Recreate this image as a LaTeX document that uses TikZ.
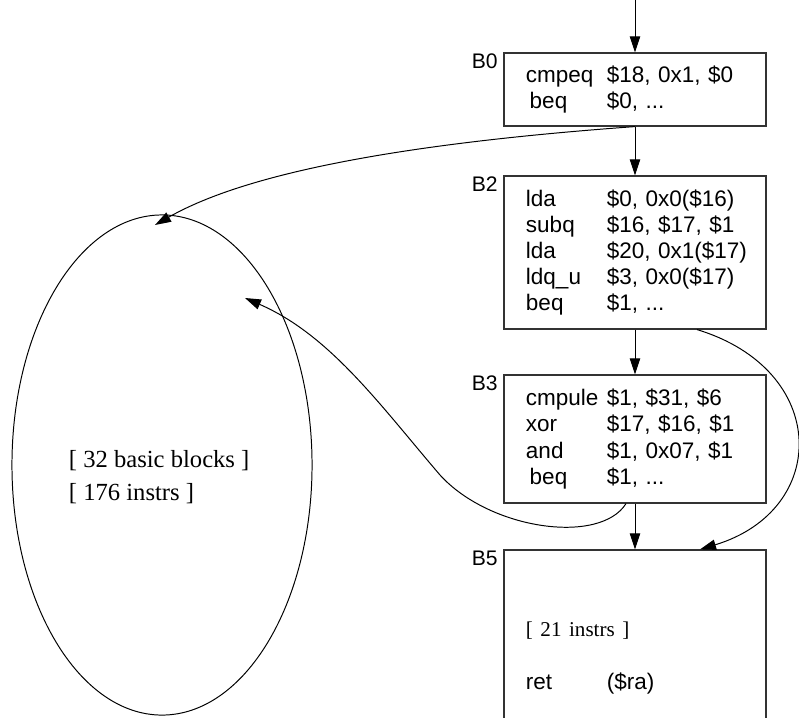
\documentclass[tikz,border=0pt]{standalone}
\usepackage{fontspec}
\setmainfont{Liberation Serif}
\newfontfamily\codefont{Liberation Sans}
\usetikzlibrary{arrows.meta,positioning,calc,shapes.geometric}
\newcommand{\instr}[2]{\makebox[2.02cm][l]{#1}\mbox{#2}}

\begin{document}
\begin{tikzpicture}[
  x=0.025cm, y=-0.025cm,
  block/.style={draw=black!80, line width=0.8pt, text width=5.45cm, inner xsep=0.55cm,
    align=left, font=\codefont\fontsize{16}{18.5}\selectfont},
  blocklabel/.style={anchor=north east, inner sep=1pt, font=\codefont\fontsize{15}{18}\selectfont},
  note/.style={align=left, font=\fontsize{17.5}{23.5}\selectfont},
  arr/.style={-{Triangle[length=4mm, width=2.6mm]}, line width=0.7pt}
]
  \useasboundingbox (0,0) rectangle (799,717);
  \clip (0,0) rectangle (799,717);
  % blocks of the function
  \node[block, minimum height=1.825cm] (b0) at (635,89.5)
    {\instr{cmpeq}{\$18, 0x1, \$0}\\ \instr{\,beq}{\$0, ...}};
  \node[block, minimum height=3.825cm] (b2) at (635,252.5)
    {\instr{lda}{\$0, 0x0(\$16)}\\ \instr{subq}{\$16, \$17, \$1}\\
     \instr{lda}{\$20, 0x1(\$17)}\\ \instr{ldq\_u}{\$3, 0x0(\$17)}\\
     \instr{beq}{\$1, ...}};
  \node[block, minimum height=3.2cm] (b3) at (635,439)
    {\instr{cmpule}{\$1, \$31, \$6}\\ \instr{xor}{\$17, \$16, \$1}\\
     \instr{and}{\$1, 0x07, \$1}\\ \instr{\,beq}{\$1, ...}};
  \node[block, minimum height=5.4cm] (b5) at (635,658)
    {{\rmfamily\fontsize{15}{18.5}\selectfont [ 21 instrs ]}\\[19pt] \instr{ret}{(\$ra)}};
  \node[blocklabel] (l0) at ($(b0.north west)+(-4,0)$) {B0};
  \node[blocklabel] (l2) at ($(b2.north west)+(-4,0)$) {B2};
  \node[blocklabel] (l3) at ($(b3.north west)+(-4,0)$) {B3};
  \node[blocklabel] (l5) at ($(b5.north west)+(-4,0)$) {B5};
  % the rest of the function
  \node[ellipse, draw, line width=0.7pt, minimum width=7.5cm, minimum height=12.5cm] (blob) at (162,465) {};
  \node[note, anchor=west] (blobtext) at (64,477) {{[ 32 basic blocks ]}\\{[ 176 instrs ]}};
  \coordinate (entry) at (635,-10);
  \coordinate (topin) at (155,225);
  \coordinate (loopin) at (245,298);
  % edges
  \draw[arr] (entry) -- (b0);
  \draw[arr] (b0) -- (b2);
  \draw[arr] (b2) -- (b3);
  \draw[arr] (b3) -- (b5);
  \draw[arr] (b0.south) .. controls (450,140) and (260,165) .. (topin);
  \draw[arr] ($(b2.south)+(62,0)$) .. controls (830,370) and (830,510) .. ($(b5.north)+(65,0)$);
  \draw[arr] ($(b3.south)+(-9,0)$) .. controls (600,545) and (490,530) .. (440,475)
    .. controls (380,405) and (330,335) .. (loopin);
\end{tikzpicture}
\end{document}
